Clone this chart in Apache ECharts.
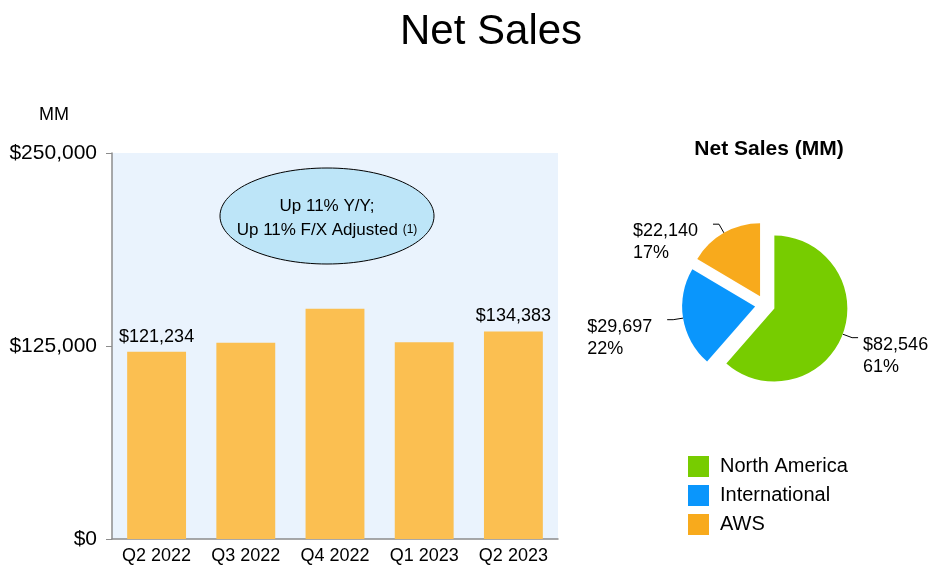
<!DOCTYPE html>
<html lang="en">
<head>
    <meta charset="UTF-8">
    <title>Net Sales</title>
    <style type="text/css">
        body {
            margin: 0;
            background: #ffffff;
        }

        #chart {
            width: 943px;
            height: 578px;
        }
    </style>
    <script type="text/javascript" src="https://cdn.jsdelivr.net/npm/echarts@6/dist/echarts.min.js"></script>
</head>
<body>
    <div id="chart"></div>
</body>
</html>
<script type="text/javascript">
    var quarters = ['Q2 2022', 'Q3 2022', 'Q4 2022', 'Q1 2023', 'Q2 2023'];
    var netSales = [121234, 127101, 149204, 127358, 134383];
    var labeledBars = [0, 4];
    var yTicks = [0, 125000, 250000];

    var segments = ['North America', 'International', 'AWS'];
    var segmentSales = [82546, 29697, 22140];
    var segmentColors = ['#77CC00', '#0A96FC', '#F8AA1C'];

    var font = 'Liberation Sans, Arial, sans-serif';

    function money(v) {
        return '$' + v.toLocaleString('en-US');
    }

    var barData = [];
    for (var i = 0; i < netSales.length; i++) {
        barData.push({
            value: netSales[i],
            label: { show: labeledBars.indexOf(i) >= 0 }
        });
    }

    var pieData = [];
    for (var j = 0; j < segments.length; j++) {
        pieData.push({
            name: segments[j],
            value: segmentSales[j],
            selected: true,
            itemStyle: { color: segmentColors[j] }
        });
    }

    var chart = echarts.init(document.getElementById('chart'));
    var option = {
        animation: false,
        textStyle: { fontFamily: font, color: '#000' },
        title: [{
            text: 'Net Sales',
            left: 395,
            top: 6,
            textStyle: { fontSize: 42, fontWeight: 'normal', color: '#000', fontFamily: font }
        }, {
            text: 'Net Sales (MM)',
            left: 764,
            textAlign: 'center',
            top: 134,
            textStyle: { fontSize: 21, fontWeight: 'bold', color: '#000', fontFamily: font }
        }, {
            text: 'MM',
            left: 34,
            top: 101,
            textStyle: { fontSize: 18, fontWeight: 'normal', color: '#000', fontFamily: font }
        }],
        legend: {
            data: segments,
            orient: 'vertical',
            left: 683,
            top: 451,
            icon: 'rect',
            itemWidth: 21,
            itemHeight: 21,
            itemGap: 8,
            selectedMode: false,
            textStyle: { fontSize: 20, color: '#000', fontFamily: font, padding: [0, 0, 0, 6] }
        },
        grid: {
            left: 112,
            top: 153,
            width: 446,
            height: 386,
            show: true,
            backgroundColor: '#EAF3FD',
            borderWidth: 0
        },
        xAxis: {
            type: 'category',
            data: quarters,
            axisLine: { lineStyle: { color: '#8C8C8C', width: 1.5 } },
            axisTick: { alignWithLabel: true, length: 5, lineStyle: { color: '#8C8C8C' } },
            axisLabel: { interval: 0, fontSize: 18, color: '#000', margin: 8, fontFamily: font }
        },
        yAxis: {
            type: 'value',
            min: yTicks[0],
            max: yTicks[yTicks.length - 1],
            interval: yTicks[1] - yTicks[0],
            splitLine: { show: false },
            axisLine: { show: true, lineStyle: { color: '#8C8C8C', width: 1.5 } },
            axisTick: { show: true, length: 6, lineStyle: { color: '#8C8C8C' } },
            axisLabel: {
                fontSize: 21,
                color: '#000',
                margin: 15,
                fontFamily: font,
                formatter: function (v) { return money(v); }
            }
        },
        graphic: [{
            type: 'ellipse',
            shape: { cx: 327, cy: 216, rx: 107, ry: 48 },
            style: { fill: '#BDE5F8', stroke: '#000', lineWidth: 1 },
            z: 10
        }, {
            type: 'text',
            x: 327,
            y: 218,
            z: 11,
            style: {
                text: '{a|Up 11% Y/Y;}\n{a|Up 11% F/X Adjusted }{b|(1)}',
                align: 'center',
                verticalAlign: 'middle',
                rich: {
                    a: { fontSize: 17, fontFamily: font, fill: '#000', lineHeight: 24 },
                    b: { fontSize: 12, fontFamily: font, fill: '#000', lineHeight: 24 }
                }
            }
        }],
        series: [{
            type: 'bar',
            data: barData,
            barWidth: '66%',
            itemStyle: { color: '#FBBF51' },
            label: {
                position: 'top',
                distance: 6,
                fontSize: 18,
                color: '#000',
                fontFamily: font,
                formatter: function (p) { return money(p.value); }
            }
        }, {
            type: 'pie',
            center: [765, 305],
            radius: 73,
            startAngle: 90,
            clockwise: true,
            selectedMode: 'multiple',
            selectedOffset: 10,
            percentPrecision: 0,
            data: pieData,
            emphasis: { disabled: true },
            label: {
                show: true,
                position: 'outside',
                color: '#000',
                fontFamily: font,
                formatter: function (p) {
                    return '{e| }\n{t|' + money(p.value) + '}\n{t|' + p.percent + '%}';
                },
                rich: {
                    e: { lineHeight: 36, fontSize: 10 },
                    t: { fontSize: 18, lineHeight: 22, width: 75, align: 'left', color: '#000', fontFamily: font }
                }
            },
            labelLine: {
                show: true,
                length: 10,
                length2: 6,
                lineStyle: { color: '#000', width: 1 }
            }
        }]
    };
    chart.setOption(option);
</script>
